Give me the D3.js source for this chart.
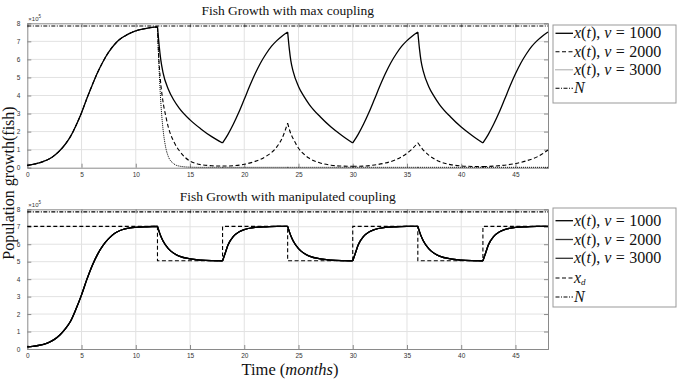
<!DOCTYPE html>
<html><head><meta charset="utf-8">
<script src="https://cdn.jsdelivr.net/npm/d3@7"></script>
<style>
body{margin:0;background:#fff;}
svg{display:block;}
</style></head>
<body>
<svg id="c" width="677" height="379"></svg>
<script>
// ---------- DATA (population in units of 1e5 fish, time in months) ----------
const xTicks = [0, 5, 10, 15, 20, 25, 30, 35, 40, 45];
const yTicks = [0, 1, 2, 3, 4, 5, 6, 7, 8];
const breakTimes = [0, 12, 18, 24, 30, 36, 42, 48];
const carryingN = 7.85;

const topGrowth0to12 = [[0,0.13],[0.5,0.18],[1,0.25],[1.5,0.35],[2,0.48],[2.5,0.68],[3,0.95],[3.5,1.3],[4,1.75],[4.5,2.35],[5,3.05],[5.5,3.85],[6,4.6],[6.5,5.3],[7,5.9],[7.5,6.4],[8,6.8],[8.5,7.1],[9,7.3],[9.5,7.46],[10,7.58],[10.5,7.66],[11,7.72],[11.5,7.77],[12,7.8]];

const topV1000 = [[12.15,6.8],[12.3,6.0],[12.5,5.3],[13,4.35],[13.5,3.75],[14,3.3],[15,2.65],[16,2.15],[17,1.72],[18,1.37],
 [18.5,1.85],[19,2.42],[19.5,3.07],[20,3.79],[20.5,4.52],[21,5.2],[21.5,5.8],[22,6.3],[22.5,6.72],[23,7.04],[23.5,7.3],[24,7.52],
 [24.15,6.6],[24.3,5.9],[24.5,5.35],[25,4.5],[25.5,3.95],[26,3.5],[27,2.82],[28,2.25],[29,1.78],[30,1.37],
 [30.5,1.85],[31,2.42],[31.5,3.07],[32,3.79],[32.5,4.52],[33,5.2],[33.5,5.8],[34,6.3],[34.5,6.72],[35,7.04],[35.5,7.3],[36,7.52],
 [36.15,6.6],[36.3,5.9],[36.5,5.35],[37,4.5],[37.5,3.95],[38,3.5],[39,2.82],[40,2.25],[41,1.78],[42,1.37],
 [42.5,1.85],[43,2.42],[43.5,3.07],[44,3.79],[44.5,4.52],[45,5.2],[45.5,5.8],[46,6.3],[46.5,6.72],[47,7.04],[47.5,7.3],[48,7.52]];

const topV2000 = [[12.1,6.3],[12.25,5.0],[12.5,3.7],[12.75,2.9],[13,2.25],[13.5,1.45],[14,0.95],[14.5,0.6],[15,0.36],[15.5,0.24],[16,0.17],[17,0.11],[18,0.09],
 [19,0.11],[20,0.19],[21,0.35],[22,0.63],[23,1.15],[23.5,1.65],[24,2.47],
 [24.25,1.95],[24.5,1.62],[25,1.08],[25.5,0.75],[26,0.52],[27,0.26],[28,0.14],[29,0.09],[30,0.08],
 [31,0.09],[32,0.15],[33,0.26],[34,0.45],[35,0.8],[35.5,1.05],[36,1.38],
 [36.5,0.98],[37,0.7],[38,0.34],[39,0.17],[40,0.1],[41,0.07],[42,0.06],
 [43,0.09],[44,0.14],[45,0.23],[46,0.38],[47,0.6],[48,0.98]];

const topV3000 = [[12.1,6.2],[12.2,4.8],[12.3,3.7],[12.4,2.85],[12.5,2.2],[12.75,1.15],[13,0.62],[13.5,0.22],[14,0.09],[15,0.03],[16,0.02],[18,0.02],
 [24,0.02],[30,0.02],[36,0.02],[42,0.02],[48,0.02]];

const botX = [[0,0.12],[0.5,0.15],[1,0.2],[1.5,0.27],[2,0.38],[2.5,0.55],[3,0.8],[3.5,1.15],[4,1.6],[4.5,2.3],[5,3.1],[5.5,4.0],[6,4.8],[6.5,5.45],[7,5.95],[7.5,6.32],[8,6.6],[8.5,6.77],[9,6.88],[9.5,6.94],[10,6.97],[11,7.0],[12,7.02],
 [12.25,6.55],[12.5,6.2],[13,5.75],[13.5,5.48],[14,5.32],[15,5.16],[16,5.09],[17,5.06],[18,5.05],
 [18.25,5.5],[18.5,5.95],[19,6.45],[19.5,6.7],[20,6.84],[21,6.96],[22,7.0],[23,7.02],[24,7.02],
 [24.25,6.55],[24.5,6.2],[25,5.75],[25.5,5.48],[26,5.32],[27,5.16],[28,5.09],[29,5.06],[30,5.05],
 [30.25,5.5],[30.5,5.95],[31,6.45],[31.5,6.7],[32,6.84],[33,6.96],[34,7.0],[35,7.02],[36,7.02],
 [36.25,6.55],[36.5,6.2],[37,5.75],[37.5,5.48],[38,5.32],[39,5.16],[40,5.09],[41,5.06],[42,5.05],
 [42.25,5.5],[42.5,5.95],[43,6.45],[43.5,6.7],[44,6.84],[45,6.96],[46,7.0],[47,7.02],[48,7.02]];

const xdTimes = [0, 12, 18, 24, 30, 36, 42, 48];
const xdValues = [7.02, 5.05, 7.02, 5.05, 7.02, 5.05, 7.02, 7.02];

const titles = ["Fish Growth with max coupling", "Fish Growth with manipulated coupling"];
const topLegend = ["v1000", "v2000", "v3000", "N"];
const botLegend = ["v1000", "v2000", "v3000", "xd", "N"];

// ---------- DRAW ----------
const svg = d3.select("#c");
const serif = "'Liberation Serif','DejaVu Serif',serif";
const sans = "'Liberation Sans',Arial,sans-serif";
const x = d3.scaleLinear().domain([0, 48]).range([27.3, 548]);

const panels = [
  {top: 23.3, bottom: 167.7, title: titles[0], titleY: 15},
  {top: 209.3, bottom: 349, title: titles[1], titleY: 201}
];
panels.forEach(p => { p.y = d3.scaleLinear().domain([0, 8]).range([p.bottom, p.top]); });

function splitPieces(data) {
  const pieces = [];
  for (let i = 0; i < breakTimes.length - 1; i++) {
    const a = breakTimes[i], b = breakTimes[i + 1];
    const pc = data.filter(d => d[0] >= a - 1e-9 && d[0] <= b + 1e-9);
    if (pc.length > 1) pieces.push(pc);
  }
  return pieces;
}

function drawAxes(p) {
  const g = svg.append("g");
  const y = p.y;
  g.selectAll(".gx").data(xTicks.slice(1)).join("line")
    .attr("x1", d => x(d)).attr("x2", d => x(d)).attr("y1", p.top).attr("y2", p.bottom)
    .attr("stroke", "#e2e2e2").attr("stroke-width", 1);
  g.selectAll(".gy").data(yTicks.slice(1, -1)).join("line")
    .attr("y1", d => y(d)).attr("y2", d => y(d)).attr("x1", x(0)).attr("x2", x(48))
    .attr("stroke", "#e2e2e2").attr("stroke-width", 1);
  const ax = d3.axisBottom(x).tickValues(xTicks).tickSize(-4).tickPadding(6).tickFormat(d3.format("d"));
  const axT = d3.axisTop(x).tickValues(xTicks).tickSize(-4).tickFormat("");
  const ay = d3.axisLeft(y).tickValues(yTicks).tickSize(-4).tickPadding(7).tickFormat(d3.format("d"));
  const ayR = d3.axisRight(y).tickValues(yTicks).tickSize(-4).tickFormat("");
  const gx = g.append("g").attr("transform", `translate(0,${p.bottom})`).call(ax);
  const gxt = g.append("g").attr("transform", `translate(0,${p.top})`).call(axT);
  const gy = g.append("g").attr("transform", `translate(${x(0)},0)`).call(ay);
  const gyr = g.append("g").attr("transform", `translate(${x(48)},0)`).call(ayR);
  [gx, gxt, gy, gyr].forEach(a => {
    a.select(".domain").attr("stroke", "#8a8a8a");
    a.selectAll(".tick line").attr("stroke", "#8a8a8a");
    a.selectAll("text").attr("font-family", sans).attr("font-size", 6.5).attr("fill", "#333");
  });
  gx.selectAll("text").attr("dy", "0.45em");
  const ex = g.append("text").attr("x", x(0) + 1).attr("y", p.top - 2.5)
    .attr("font-family", sans).attr("font-size", 6).attr("fill", "#333");
  ex.append("tspan").text("×10");
  ex.append("tspan").attr("dy", -2.5).attr("font-size", 4.5).text("5");
  svg.append("text").attr("x", (x(0) + x(48)) / 2).attr("y", p.titleY)
    .attr("text-anchor", "middle").attr("font-family", serif).attr("font-size", 13.5)
    .attr("fill", "#111").text(p.title);
}

function drawSeries(p, data, style) {
  const line = d3.line().x(d => x(d[0])).y(d => p.y(d[1])).curve(d3.curveMonotoneX);
  const dStr = splitPieces(data).map(pc => line(pc)).join("");
  svg.append("path").attr("d", dStr).attr("fill", "none")
    .attr("stroke", style.color || "#000").attr("stroke-width", style.w)
    .attr("stroke-dasharray", style.dash || null);
}

function drawN(p) {
  svg.append("line").attr("x1", x(0)).attr("x2", x(48))
    .attr("y1", p.y(carryingN)).attr("y2", p.y(carryingN))
    .attr("stroke", "#000").attr("stroke-width", 1.1).attr("stroke-dasharray", "4,1.5,1,1.5");
}

const styles = {
  solid: {w: 1.3, dash: null},
  dashed: {w: 1.1, dash: "4,2.5"},
  dotted: {w: 1.0, dash: "1,1"},
  dashdot: {w: 1.1, dash: "4,1.5,1,1.5"}
};

// top panel
const P0 = panels[0];
drawAxes(P0);
drawN(P0);
drawSeries(P0, topGrowth0to12.concat(topV3000), styles.dotted);
drawSeries(P0, topGrowth0to12.concat(topV2000), styles.dashed);
drawSeries(P0, topGrowth0to12.concat(topV1000), styles.solid);

// bottom panel
const P1 = panels[1];
drawAxes(P1);
drawN(P1);
const xdPts = xdTimes.map((t, i) => [t, xdValues[i]]);
svg.append("path").attr("d", d3.line().x(d => x(d[0])).y(d => P1.y(d[1])).curve(d3.curveStepAfter)(xdPts))
  .attr("fill", "none").attr("stroke", "#000").attr("stroke-width", styles.dashed.w).attr("stroke-dasharray", styles.dashed.dash);
drawSeries(P1, botX, {w: 1.3, color: "#000"});
drawSeries(P1, botX, {w: 1.3, color: "#000"});
drawSeries(P1, botX, {w: 1.3, color: "#000"});

// legends
function addLabel(t, key) {
  const it = (s) => t.append("tspan").attr("font-style", "italic").text(s);
  const rm = (s) => t.append("tspan").text(s);
  if (key === "N") { it("N"); return; }
  if (key === "xd") { it("x"); t.append("tspan").attr("font-style", "italic").attr("font-size", 9).attr("dy", 2).text("d"); return; }
  const v = key.slice(1);
  it("x"); rm("("); it("t"); rm("),");
  t.append("tspan").attr("dx", 4).attr("font-style", "italic").text("v");
  t.append("tspan").attr("dx", 4.5).text("=");
  t.append("tspan").attr("dx", 4.5).text(v);
}
function drawLegend(items, box, rowY, itemStyles, lineColors) {
  const g = svg.append("g");
  g.append("rect").attr("x", box[0]).attr("y", box[1]).attr("width", box[2]).attr("height", box[3])
    .attr("fill", "#fff").attr("stroke", "#999").attr("stroke-width", 1);
  items.forEach((k, i) => {
    const yy = rowY[i];
    const st = styles[itemStyles[i]];
    g.append("line").attr("x1", box[0] + 2.5).attr("x2", box[0] + 20).attr("y1", yy).attr("y2", yy)
      .attr("stroke", lineColors[i]).attr("stroke-width", st.w)
      .attr("stroke-dasharray", st.dash || null);
    const t = g.append("text").attr("x", box[0] + 21).attr("y", yy + 5)
      .attr("font-family", serif).attr("font-size", 16).attr("fill", "#111");
    addLabel(t, k);
  });
}
drawLegend(topLegend, [553, 25, 123, 78], [33.3, 51.7, 69.8, 88.3],
  ["solid", "dashed", "dotted", "dashdot"], ["#000", "#000", "#555", "#000"]);
drawLegend(botLegend, [553, 208, 123, 99], [220.7, 239.5, 258.3, 278, 297],
  ["solid", "solid", "solid", "dashed", "dashdot"], ["#000", "#333", "#333", "#000", "#000"]);

// axis labels
svg.append("text").attr("transform", "translate(14,183) rotate(-90)").attr("text-anchor", "middle")
  .attr("font-family", serif).attr("font-size", 16).attr("fill", "#111").text("Population growth(fish)");
const xl = svg.append("text").attr("x", 290).attr("y", 375).attr("text-anchor", "middle")
  .attr("font-family", serif).attr("font-size", 16.5).attr("fill", "#111");
xl.append("tspan").text("Time (");
xl.append("tspan").attr("font-style", "italic").text("months");
xl.append("tspan").text(")");
</script>
</body></html>
